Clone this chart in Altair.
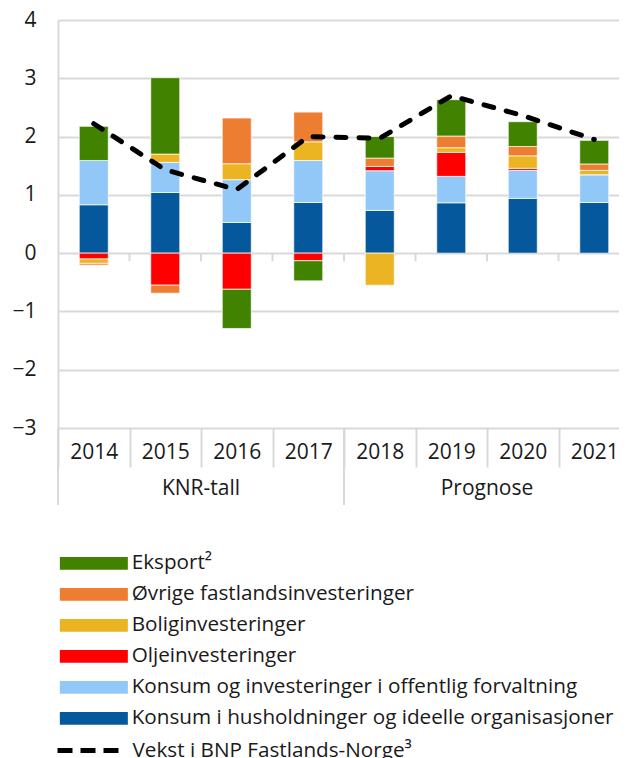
import altair as alt
import pandas as pd

# ---- data ----
years = ["2014", "2015", "2016", "2017", "2018", "2019", "2020", "2021"]
husholdning = [0.83, 1.04, 0.527, 0.87, 0.733, 0.864, 0.94, 0.87]
offentlig = [0.76, 0.517, 0.733, 0.72, 0.681, 0.453, 0.48, 0.475]
olje = [-0.10, -0.55, -0.62, -0.13, 0.074, 0.412, 0.035, 0.0]
bolig = [-0.075, 0.143, 0.274, 0.32, -0.55, 0.08, 0.215, 0.075]
ovrige = [-0.03, -0.137, 0.784, 0.51, 0.143, 0.20, 0.16, 0.11]
eksport = [0.585, 1.31, -0.672, -0.345, 0.37, 0.624, 0.425, 0.405]
bnp = [2.22, 1.43, 1.09, 2.0, 1.97, 2.70, 2.36, 1.95]

group_years = ["2015", "2019"]
group_labels = ["KNR-tall", "Prognose"]
group_start_years = ["2014", "2018"]

legend_names = [
    "Eksport²",
    "Øvrige fastlandsinvesteringer",
    "Boliginvesteringer",
    "Oljeinvesteringer",
    "Konsum og investeringer i offentlig forvaltning",
    "Konsum i husholdninger og ideelle organisasjoner",
]
colors = ["#418200", "#ED7D31", "#EBB423", "#FF0000", "#91C8F8", "#05589B"]
line_name = "Vekst i BNP Fastlands-Norge³"

FONT = "Open Sans"
TXT = "#1a1a1a"
GRID = "#d9d9d9"
AX_FS = 21
LEG_FS = 20.7

# stacking order bottom -> top
series_values = [husholdning, offentlig, olje, bolig, ovrige, eksport]
series_names = legend_names[::-1]
rows = []
for k, (nm, vals) in enumerate(zip(series_names, series_values)):
    for y, v in zip(years, vals):
        rows.append({"year": y, "series": nm, "value": v, "ord": k})
bar_df = pd.DataFrame(rows)
line_df = pd.DataFrame({"year": years, "bnp": bnp, "series": [line_name] * len(years)})

x_axis = alt.Axis(
    title=None, labelAngle=0, labelFont=FONT, labelFontSize=AX_FS, labelColor=TXT,
    labelBaseline="middle", labelPadding=-15, ticks=True, tickBand="extent",
    tickSize=39, tickColor=GRID, tickWidth=2, domain=False, grid=False,
)
# the category axis runs on past the right edge of the picture, as in the reference
x_scale = alt.Scale(paddingInner=0, paddingOuter=0, range=[0, 572])


def xenc(bp=None):
    if bp is None:
        return alt.X("year:N", sort=years, scale=x_scale, axis=x_axis)
    return alt.X("year:N", sort=years, scale=x_scale, axis=x_axis, bandPosition=bp)


y_axis = alt.Axis(
    title=None, values=list(range(-3, 5)), format="d", labelFont=FONT, labelFontSize=AX_FS,
    labelColor=TXT, labelPadding=22, ticks=False, domain=True, domainColor=GRID,
    domainWidth=2, grid=True, gridColor=GRID, gridWidth=2,
)
y_scale = alt.Scale(domain=[-3, 4], nice=False, zero=False)

bars = alt.Chart(bar_df).mark_bar(size=29, stroke="white", strokeWidth=1, strokeOpacity=0.7).encode(
    x=xenc(),
    y=alt.Y("value:Q", stack="zero", scale=y_scale, axis=y_axis),
    color=alt.Color(
        "series:N",
        scale=alt.Scale(domain=legend_names, range=colors),
        legend=alt.Legend(
            title=None, orient="none", legendX=25.5, legendY=533, direction="vertical",
            symbolType="M-4,-0.76H4V0.76H-4Z", symbolSize=289, symbolStrokeWidth=0,
            symbolOpacity=1, labelFont=FONT, labelFontSize=LEG_FS, labelColor=TXT,
            labelOffset=27.5, labelLimit=700, rowPadding=9, padding=0,
        ),
    ),
    order=alt.Order("ord:Q"),
)

line = alt.Chart(line_df).mark_line(strokeDash=[10, 13], strokeCap="round", strokeWidth=5).encode(
    x=xenc(),
    y=alt.Y("bnp:Q", scale=y_scale, axis=y_axis),
    color=alt.Color(
        "series:N",
        scale=alt.Scale(domain=[line_name], range=["#000000"]),
        legend=alt.Legend(
            title=None, orient="none", legendX=-3, legendY=697, direction="vertical",
            symbolType="stroke", symbolSize=3844, symbolStrokeWidth=5, symbolDash=[15, 8],
            labelFont=FONT, labelFontSize=LEG_FS, labelColor=TXT, labelOffset=10.5,
            labelLimit=700, padding=0,
        ),
    ),
)

zero_ticks = alt.Chart(pd.DataFrame({"year": years[1:]})).mark_rule(
    color=GRID, strokeWidth=2, y2Offset=8
).encode(x=xenc(0), y=alt.datum(0), y2=alt.datum(0))

group_seps = alt.Chart(pd.DataFrame({"year": group_start_years})).mark_rule(
    color=GRID, strokeWidth=2, y2Offset=77
).encode(x=xenc(0), y=alt.datum(-3), y2=alt.datum(-3))

group_text = alt.Chart(pd.DataFrame({"year": group_years, "label": group_labels})).mark_text(
    dy=61, fontSize=AX_FS, font=FONT, color=TXT, baseline="middle"
).encode(x=xenc(1), y=alt.datum(-3), text="label:N")

chart = (
    alt.layer(bars, zero_ticks, group_seps, group_text, line)
    .resolve_scale(color="independent")
    .properties(
        width=561, height=408,
        autosize=alt.AutoSizeParams(type="none"),
        padding={"left": 50, "top": 12, "right": 0, "bottom": 340},
    )
    .configure_view(stroke=None)
)

chart.save("out.html", embed_options={"renderer": "svg", "actions": False})
